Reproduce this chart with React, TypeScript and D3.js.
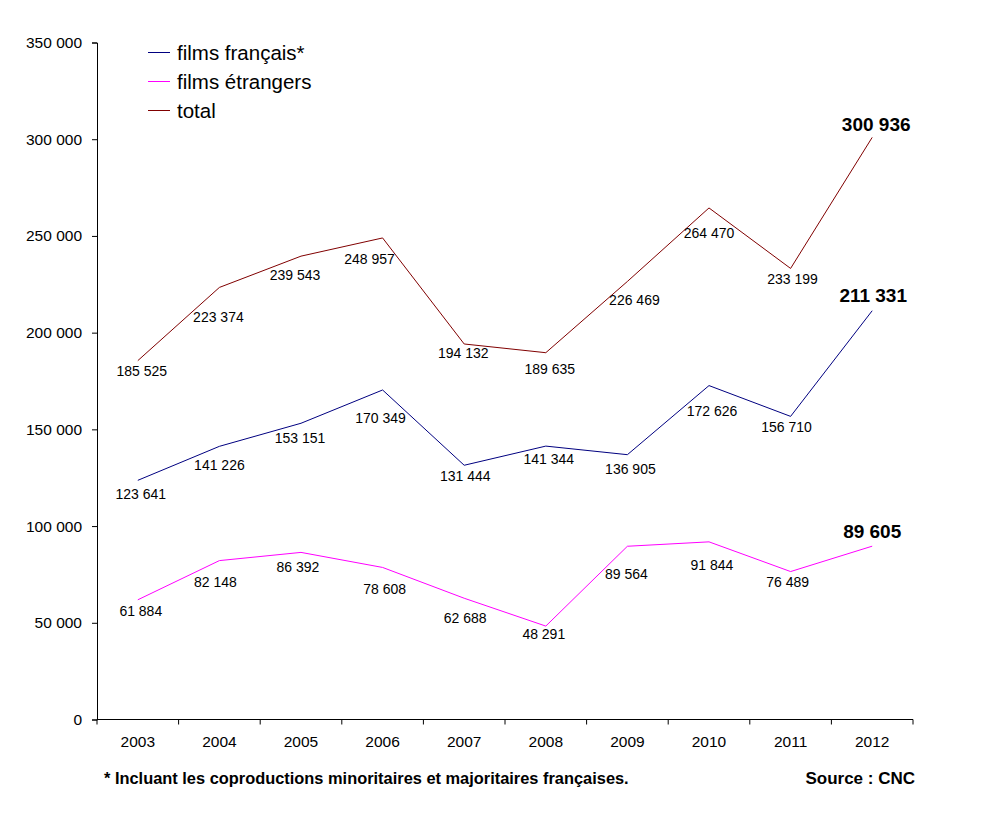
import * as d3 from "d3";
import { useEffect, useRef } from "react";

const WIDTH = 993;
const HEIGHT = 822;
const MARGIN = { top: 42.5, right: 80, bottom: 102.5, left: 97 };

const years = ["2003", "2004", "2005", "2006", "2007", "2008", "2009", "2010", "2011", "2012"];
const filmsFrancais = [123641, 141226, 153151, 170349, 131444, 141344, 136905, 172626, 156710, 211331];
const filmsEtrangers = [61884, 82148, 86392, 78608, 62688, 48291, 89564, 91844, 76489, 89605];
const total = [185525, 223374, 239543, 248957, 194132, 189635, 226469, 264470, 233199, 300936];
const yTicks = [0, 50000, 100000, 150000, 200000, 250000, 300000, 350000];

// décalage des étiquettes (placées à la main dans l'original)
const labelOffsets = {
  total: [[4, 10], [-1, 30], [-6, 19], [-13, 21], [-1, 9], [4, 16], [7, 19], [0, 25], [2, 11], [4, -13]],
  francais: [[3, 14], [0, 19], [-1, 15], [-2, 28], [1, 11], [3, 13], [3, 14], [3, 26], [-4, 11], [1, -15]],
  etrangers: [[3, 11], [-4, 21], [-3, 15], [2, 22], [1, 20], [-2, 8], [-1, 28], [3, 23], [-3, 11], [0, -15]],
};

const FONT = "'Liberation Sans', Arial, sans-serif";

const fr = d3.formatLocale({ decimal: ",", thousands: " ", grouping: [3], currency: ["", " €"] });
const fmt = fr.format(",d");

export default function App() {
  const ref = useRef<SVGSVGElement>(null);

  useEffect(() => {
    const svg = d3.select(ref.current);
    svg.selectAll("*").remove();

    const x = d3
      .scaleBand()
      .domain(years)
      .range([MARGIN.left, WIDTH - MARGIN.right]);

    const y = d3
      .scaleLinear()
      .domain([0, 350000])
      .range([HEIGHT - MARGIN.bottom, MARGIN.top]);

    const cx = (i: number) => (x(years[i]) || 0) + x.bandwidth() / 2;

    const series = [
      { key: "francais", name: "films français*", values: filmsFrancais, color: "#000080" },
      { key: "etrangers", name: "films étrangers", values: filmsEtrangers, color: "#ff00ff" },
      { key: "total", name: "total", values: total, color: "#800000" },
    ];

    // Axe Y
    const yAxis = svg
      .append("g")
      .attr("transform", `translate(${MARGIN.left}, 0)`)
      .call(
        d3
          .axisLeft(y)
          .tickValues(yTicks)
          .tickSize(5)
          .tickPadding(10)
          .tickFormat((d) => fmt(d as number))
      );
    yAxis.select(".domain").attr("stroke", "#000");
    yAxis.selectAll("text").attr("font-size", 15.5).attr("font-family", FONT).attr("fill", "#000");

    // Axe X (graduations entre les catégories)
    const xg = svg.append("g").attr("transform", `translate(0, ${HEIGHT - MARGIN.bottom})`);
    xg.append("line")
      .attr("x1", MARGIN.left)
      .attr("x2", WIDTH - MARGIN.right)
      .attr("stroke", "#000");
    xg.selectAll("line.tick")
      .data(years.concat(["end"]))
      .join("line")
      .attr("class", "tick")
      .attr("x1", (d) => (d === "end" ? WIDTH - MARGIN.right : x(d) || 0))
      .attr("x2", (d) => (d === "end" ? WIDTH - MARGIN.right : x(d) || 0))
      .attr("y1", 0)
      .attr("y2", 5)
      .attr("stroke", "#000");
    xg.selectAll("text")
      .data(years)
      .join("text")
      .attr("x", (_, i) => cx(i))
      .attr("y", 22)
      .attr("dy", "0.35em")
      .attr("text-anchor", "middle")
      .attr("font-size", 15.5)
      .attr("font-family", FONT)
      .text((d) => d);

    // Courbes
    const line = d3
      .line<number>()
      .x((_, i) => cx(i))
      .y((d) => y(d));

    series.forEach((s) => {
      svg
        .append("path")
        .datum(s.values)
        .attr("d", line)
        .attr("fill", "none")
        .attr("stroke", s.color)
        .attr("stroke-width", 1);

      const offsets = labelOffsets[s.key as keyof typeof labelOffsets];
      svg
        .append("g")
        .selectAll("text")
        .data(s.values)
        .join("text")
        .attr("x", (_, i) => cx(i) + offsets[i][0])
        .attr("y", (d, i) => y(d) + offsets[i][1])
        .attr("dy", "0.35em")
        .attr("text-anchor", "middle")
        .attr("font-family", FONT)
        .attr("font-size", (_, i) => (i === years.length - 1 ? 19 : 14))
        .attr("font-weight", (_, i) => (i === years.length - 1 ? "bold" : "normal"))
        .text((d) => fmt(d));
    });

    // Légende
    const legend = svg
      .append("g")
      .selectAll("g")
      .data(series)
      .join("g")
      .attr("transform", (_, i) => `translate(148, ${52.5 + i * 29})`);
    legend
      .append("line")
      .attr("x1", 0)
      .attr("x2", 22)
      .attr("stroke", (d) => d.color);
    legend
      .append("text")
      .attr("x", 29)
      .attr("dy", "0.35em")
      .attr("font-size", 20.5)
      .attr("font-family", FONT)
      .text((d) => d.name);

    // Notes
    svg
      .append("text")
      .attr("x", 104)
      .attr("y", 778)
      .attr("dy", "0.35em")
      .attr("font-size", 16.4)
      .attr("font-weight", "bold")
      .attr("font-family", FONT)
      .text("* Incluant les coproductions minoritaires et majoritaires françaises.");
    svg
      .append("text")
      .attr("x", 915)
      .attr("y", 778)
      .attr("dy", "0.35em")
      .attr("text-anchor", "end")
      .attr("font-size", 17)
      .attr("font-weight", "bold")
      .attr("font-family", FONT)
      .text("Source : CNC");
  }, []);

  return (
    <svg
      ref={ref}
      width={WIDTH}
      height={HEIGHT}
      style={{ position: "absolute", left: 0, top: 0, background: "#fff" }}
    />
  );
}
